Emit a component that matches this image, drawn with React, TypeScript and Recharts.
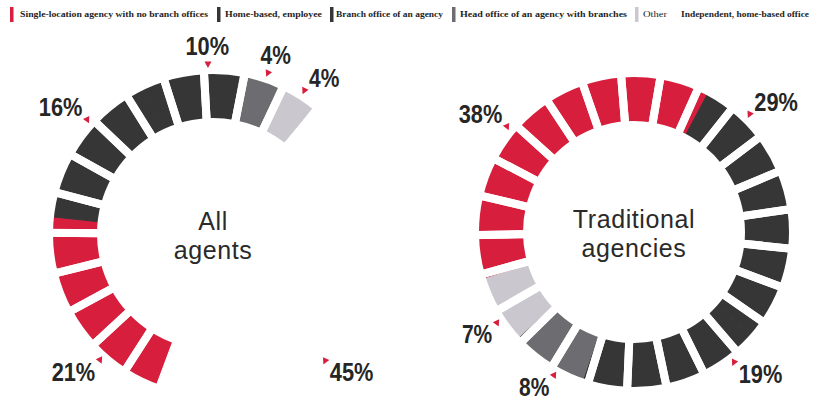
import React from "react";
import { PieChart, Pie, Cell } from "recharts";

// categories, shared by both rings and the legend
const categories = [
  "Single-location agency with no branch offices",
  "Home-based, employee",
  "Branch office of an agency",
  "Head office of an agency with branches",
  "Other",
  "Independent, home-based office",
];
const categoryColors = ["#d71f3d", "#363636", "#363636", "#6d6c70", "#cbc7cf", "#ffffff"];

// shares in %
const allAgentsShares = [21, 16, 10, 4, 4, 45];
const traditionalShares = [38, 29, 19, 8, 7, 0];

// each ring is printed as 25 blocks (4% each)
const ringSegmentCount = 25;

const RED = "#d71f3d";
const RAD = Math.PI / 180;
const W = 815;
const H = 402;

// ring geometry
const GAP = 8;
const LEFT = { cx: 213, cy: 234, inner: 112, outer: 164, start: 200.5, blockShift: 4 };
const RIGHT = { cx: 634, cy: 232, inner: 107, outer: 159, start: 252.6, blockShift: 2.5 };

// the printed call-outs are not exactly at slice centres; nudge them (clockwise degrees)
const allAgentsNudge = [-16.6, 7.3, 6.6, 1.9, 1.2, 19.2];
const traditionalNudge = [-10.7, -35.2, -22.6, -4.4, -3.9];

// legend placement along the top strip
const legendLayout = [
  { swatchX: 10, textX: 20, textW: 188, bold: true },
  { swatchX: 217, textX: 225, textW: 97, bold: true },
  { swatchX: 330, textX: 336, textW: 107, bold: true },
  { swatchX: 452, textX: 460, textW: 167, bold: true },
  { swatchX: 635, textX: 643, textW: 24, bold: false },
  { swatchX: null, textX: 681, textW: 128, bold: true },
];

const buildSlices = (shares: number[]) =>
  categories
    .map((name, i) => ({ name, value: shares[i], color: categoryColors[i] }))
    .filter((d) => d.value > 0);

const blockSlices = Array.from({ length: ringSegmentCount }, (_, i) => ({ name: `block-${i}`, value: 1 }));

const calloutFont = "'Liberation Sans', Arial, sans-serif";
const bodyFont = "'Liberation Sans', Arial, sans-serif";

function makeCallout(nudges: number[]) {
  return (props: any) => {
    const { cx, cy, midAngle, outerRadius, value, index } = props;
    const phi = 90 - midAngle + (nudges[index] ?? 0); // clockwise from 12 o'clock
    const s = Math.sin(phi * RAD);
    const c = Math.cos(phi * RAD);
    const r = outerRadius + 5.5;
    const tx = cx + r * s;
    const ty = cy - r * c;
    const lean = s > 0.25 ? 25 : s < -0.25 ? -25 : 0;

    let anchor: "start" | "middle" | "end" = "middle";
    let x = tx + s * 25;
    if (Math.abs(s) >= 0.45) {
      anchor = s > 0 ? "start" : "end";
      x = s > 0 ? tx + 5 : tx - 5;
    }
    const y = c < 0 ? ty + 20 : c > 0.9 ? ty - 10 : ty - 4;
    const label = `${value}%`;

    return (
      <g key={`callout-${index}`}>
        <polygon
          points="-3.5,-3 3.5,-3 0,3.5"
          fill={RED}
          transform={`translate(${tx},${ty}) rotate(${lean})`}
        />
        <text
          x={x}
          y={y}
          textAnchor={anchor}
          fontFamily={calloutFont}
          fontWeight="bold"
          fontSize={25}
          fill="#262626"
          textLength={(label.length - 1) * 13.3 + 17}
          lengthAdjust="spacingAndGlyphs"
        >
          {label}
        </text>
      </g>
    );
  };
}

function Ring({ ring, shares, nudges, id }: any) {
  const startAngle = 90 - ring.start;
  const blockStart = 90 - (ring.blockShift - 180 / ringSegmentCount);
  const slices = buildSlices(shares);
  return [
    <Pie
      key={`${id}-slices`}
      data={slices}
      dataKey="value"
      nameKey="name"
      cx={ring.cx}
      cy={ring.cy}
      innerRadius={ring.inner}
      outerRadius={ring.outer}
      startAngle={startAngle}
      endAngle={startAngle - 360}
      label={makeCallout(nudges)}
      labelLine={false}
      isAnimationActive={false}
    >
      {slices.map((d, i) => (
        <Cell key={`${id}-cell-${i}`} fill={d.color} stroke={d.color} strokeWidth={1} />
      ))}
    </Pie>,
    <Pie
      key={`${id}-blocks`}
      data={blockSlices}
      dataKey="value"
      cx={ring.cx}
      cy={ring.cy}
      innerRadius={ring.inner}
      outerRadius={ring.outer}
      startAngle={blockStart}
      endAngle={blockStart - 360}
      fill="none"
      stroke="#ffffff"
      strokeWidth={GAP}
      legendType="none"
      isAnimationActive={false}
    />,
  ];
}

function TopLegend() {
  return (
    <svg width={W} height={26} style={{ position: "absolute", left: 0, top: 0 }}>
      {categories.map((name, i) => {
        const l = legendLayout[i];
        return (
          <g key={name}>
            {l.swatchX !== null && (
              <rect x={l.swatchX} y={7} width={3.5} height={15} fill={categoryColors[i]} />
            )}
            <text
              x={l.textX}
              y={16.5}
              fontSize={8.5}
              fontFamily="'Liberation Serif', serif"
              fontWeight={l.bold ? "bold" : "normal"}
              fill="#1e1e1e"
              textLength={l.textW}
              lengthAdjust="spacingAndGlyphs"
            >
              {name}
            </text>
          </g>
        );
      })}
    </svg>
  );
}

function CenterTitle({ ring, lines }: any) {
  return (
    <text
      x={ring.cx}
      y={ring.cy - 4}
      textAnchor="middle"
      fontFamily={bodyFont}
      fontSize={25}
      letterSpacing={0.6}
      fill="#2a2a2a"
    >
      <tspan x={ring.cx}>{lines[0]}</tspan>
      <tspan x={ring.cx} dy={29}>
        {lines[1]}
      </tspan>
    </text>
  );
}

export default function App() {
  return (
    <div style={{ position: "absolute", left: 0, top: 0, width: W, height: H, background: "#fff" }}>
      <div style={{ position: "absolute", left: 0, top: 0 }}>
        <PieChart width={W} height={H} margin={{ top: 0, right: 0, bottom: 0, left: 0 }}>
          {Ring({ ring: LEFT, shares: allAgentsShares, nudges: allAgentsNudge, id: "all" })}
          {Ring({ ring: RIGHT, shares: traditionalShares, nudges: traditionalNudge, id: "trad" })}
          {CenterTitle({ ring: LEFT, lines: ["All", "agents"] })}
          {CenterTitle({ ring: RIGHT, lines: ["Traditional", "agencies"] })}
        </PieChart>
      </div>
      <TopLegend />
    </div>
  );
}
